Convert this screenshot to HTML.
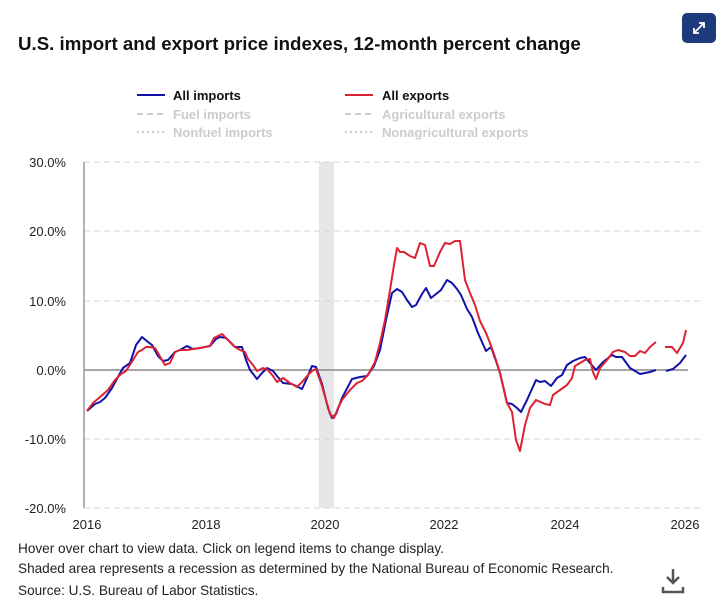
<!DOCTYPE html>
<html><head><meta charset="utf-8"><style>
body{margin:0;width:717px;height:616px;background:#fff;font-family:"Liberation Sans",sans-serif;overflow:hidden;position:relative}
.t{position:absolute;left:18px;top:33px;font-size:18.7px;font-weight:bold;color:#111}
.btn{position:absolute;left:682px;top:13px;width:34px;height:30px;background:#1d3a7a;border-radius:5px}
.f{position:absolute;left:18px;font-size:13.6px;color:#222}
</style></head><body>
<div class="t">U.S. import and export price indexes, 12-month percent change</div>
<div class="btn"><svg width="34" height="30"><path d="M12 20 L22 10 M17 10 H22 V15 M12 15 V20 H17" stroke="#fff" stroke-width="1.8" fill="none"/></svg></div>
<svg width="717" height="616" style="position:absolute;left:0;top:0" font-family="Liberation Sans, sans-serif">
<g font-size="13" font-weight="bold">
<line x1="137" y1="95" x2="165" y2="95" stroke="#1111aa" stroke-width="2"/><text x="173" y="100" fill="#111">All imports</text>
<line x1="345" y1="95" x2="373" y2="95" stroke="#dd2233" stroke-width="2"/><text x="382" y="100" fill="#111">All exports</text>
<line x1="137" y1="114" x2="165" y2="114" stroke="#ccc" stroke-width="2" stroke-dasharray="6,4"/><text x="173" y="119" fill="#ccc">Fuel imports</text>
<line x1="345" y1="114" x2="373" y2="114" stroke="#ccc" stroke-width="2" stroke-dasharray="6,4"/><text x="382" y="119" fill="#ccc">Agricultural exports</text>
<line x1="137" y1="132" x2="165" y2="132" stroke="#ccc" stroke-width="2" stroke-dasharray="2,3"/><text x="173" y="137" fill="#ccc">Nonfuel imports</text>
<line x1="345" y1="132" x2="373" y2="132" stroke="#ccc" stroke-width="2" stroke-dasharray="2,3"/><text x="382" y="137" fill="#ccc">Nonagricultural exports</text>
</g>
<rect x="319" y="162" width="15" height="346" fill="#e6e6e6"/>
<g stroke="#d4d4d4" stroke-dasharray="6,4" stroke-width="1">
<line x1="84" y1="162" x2="700" y2="162"/><line x1="84" y1="231" x2="700" y2="231"/><line x1="84" y1="301" x2="700" y2="301"/><line x1="84" y1="439" x2="700" y2="439"/><line x1="84" y1="508" x2="700" y2="508"/>
</g>
<line x1="84" y1="370" x2="688" y2="370" stroke="#888" stroke-width="1.5"/>
<line x1="84" y1="162" x2="84" y2="508" stroke="#999" stroke-width="1.5"/>
<g font-size="13" fill="#222" text-anchor="end">
<text x="66" y="167">30.0%</text><text x="66" y="236">20.0%</text><text x="66" y="306">10.0%</text><text x="66" y="375">0.0%</text><text x="66" y="444">-10.0%</text><text x="66" y="513">-20.0%</text>
</g>
<g font-size="13" fill="#222" text-anchor="middle">
<text x="87" y="529">2016</text><text x="206" y="529">2018</text><text x="325" y="529">2020</text><text x="444" y="529">2022</text><text x="565" y="529">2024</text><text x="685" y="529">2026</text>
</g>
<g fill="none" stroke-width="2" stroke-linejoin="round">
<polyline stroke="#1111aa" points="87,411 95,404 100,402 105,398 112,388 118,377 123,368 130,363 136,345 142,337 148,342 152,345 158,356 163,361 168,360 175,352 180,350 187,346 193,349 200,348 210,346 216,339 220,337 226,338 235,347 242,347 246,360 250,370 257,379 262,373 267,368 273,371 277,376 283,383 292,384 302,389 307,378 312,366 316,367 322,384 328,408 332,418 336,414 342,398 352,379 360,377 367,376 374,366 380,350 386,320 392,293 397,289 402,292 407,300 412,307 416,305 422,294 426,288 431,298 436,294 441,290 447,280 452,283 457,289 461,295 467,309 472,317 478,333 482,342 486,351 491,347 496,361 500,373 507,403 512,404 517,408 521,412 527,400 536,380 540,382 545,381 551,386 557,378 562,375 567,365 573,361 580,358 585,357 590,363 596,370 603,362 612,355 616,357 622,357 630,368 640,374 650,372 656,370"/>
<polyline stroke="#1111aa" points="666,371 673,369 680,363 686,355"/>
<polyline stroke="#dd2233" points="87,411 93,403 100,397 108,390 115,380 121,374 126,371 133,360 138,352 142,350 146,347 150,347 155,348 158,353 162,360 165,365 170,363 175,352 180,350 187,350 193,349 200,348 210,346 214,338 218,336 222,334 228,340 235,347 240,350 245,352 248,359 253,365 257,371 263,368 268,370 273,376 277,382 283,378 290,383 297,387 302,382 308,375 312,371 316,369 322,386 330,414 334,418 338,408 342,400 350,390 357,383 362,381 368,375 375,362 380,343 385,320 390,290 394,265 397,248 400,252 404,252 410,256 415,258 420,243 425,245 430,266 434,266 440,252 445,243 450,244 455,241 460,241 465,280 470,293 475,305 480,321 486,333 490,343 495,357 500,373 507,403 512,412 516,440 520,451 525,425 530,408 536,400 545,404 550,405 553,395 560,390 567,385 572,378 575,366 585,360 590,359 593,372 596,379 600,368 607,360 613,352 618,350 625,352 630,356 635,356 640,351 645,353 650,347 656,342"/>
<polyline stroke="#dd2233" points="665,347 672,347 677,353 683,343 686,330"/>
</g>
<g stroke="#555" stroke-width="2.5" fill="none"><path d="M673 569 V583 M667 577 L673 583 L679 577"/><path d="M663 587 V592 H683 V587"/></g>
</svg>
<div class="f" style="top:541px">Hover over chart to view data. Click on legend items to change display.</div>
<div class="f" style="top:561px">Shaded area represents a recession as determined by the National Bureau of Economic Research.</div>
<div class="f" style="top:583px">Source: U.S. Bureau of Labor Statistics.</div>
</body></html>
